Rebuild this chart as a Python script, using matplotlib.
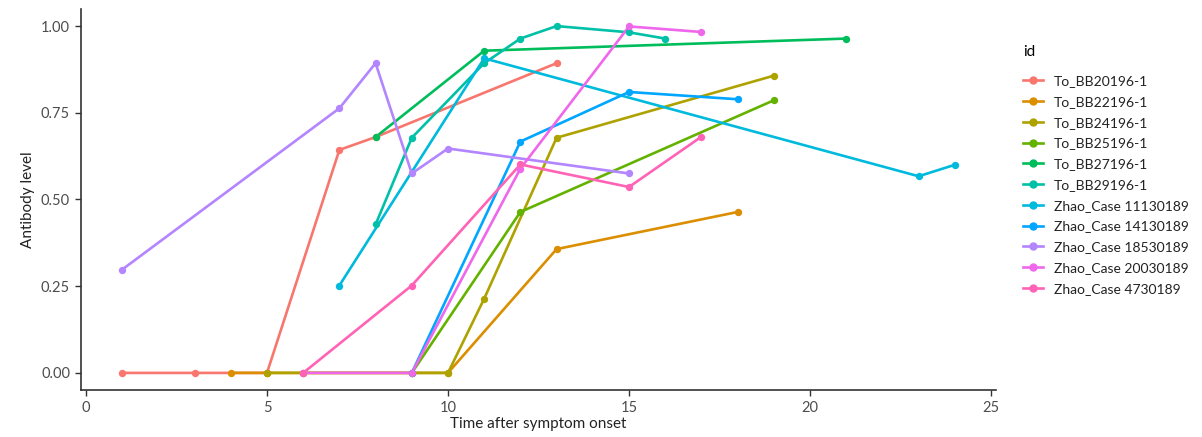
import matplotlib
matplotlib.use("Agg")
import matplotlib.pyplot as plt

plt.rcParams['font.family'] = ['Lato', 'DejaVu Sans']

ids = ["To_BB20196-1", "To_BB22196-1", "To_BB24196-1", "To_BB25196-1",
       "To_BB27196-1", "To_BB29196-1", "Zhao_Case 11130189", "Zhao_Case 14130189",
       "Zhao_Case 18530189", "Zhao_Case 20030189", "Zhao_Case 4730189"]
colors = ["#F8766D", "#DB8E00", "#AEA200", "#64B200", "#00BD5C", "#00C1A7",
          "#00BADE", "#00A6FF", "#B385FF", "#EF67EB", "#FF63B6"]

days = [
    [1, 3, 5, 7, 8, 13],
    [4, 5, 10, 13, 18],
    [5, 6, 9, 10, 11, 13, 19],
    [9, 12, 19],
    [8, 11, 21],
    [8, 9, 11, 12, 13, 15, 16],
    [7, 11, 23, 24],
    [9, 12, 15, 18],
    [1, 7, 8, 9, 10, 15],
    [6, 9, 12, 15, 17],
    [6, 9, 12, 15, 17],
]
levels = [
    [0, 0, 0, 0.643, 0.68, 0.893],
    [0, 0, 0, 0.357, 0.464],
    [0, 0, 0, 0, 0.214, 0.678, 0.857],
    [0, 0.464, 0.786],
    [0.68, 0.929, 0.964],
    [0.428, 0.678, 0.893, 0.964, 1.0, 0.982, 0.964],
    [0.252, 0.907, 0.567, 0.60],
    [0, 0.667, 0.81, 0.789],
    [0.298, 0.763, 0.893, 0.575, 0.647, 0.575],
    [0, 0, 0.589, 0.999, 0.983],
    [0, 0.252, 0.601, 0.536, 0.681],
]

fig = plt.figure(figsize=(12.02, 4.37), dpi=100)
ax = fig.add_axes([0.067, 0.107, 0.762, 0.873])

# lines first, then points on top (like ggplot layers)
for x, y, c in zip(days, levels, colors):
    ax.plot(x, y, color=c, lw=1.9, zorder=2)
handles = []
for x, y, c, name in zip(days, levels, colors, ids):
    ax.scatter(x, y, color=c, s=28, zorder=3, linewidths=0)
    h, = ax.plot([], [], color=c, lw=1.9, marker='o', ms=5, label=name)
    handles.append(h)

ax.set_xlim(-0.15, 25.15)
ax.set_ylim(-0.05, 1.05)
ax.set_xticks([0, 5, 10, 15, 20, 25])
ax.set_yticks([0, 0.25, 0.5, 0.75, 1.0])
ax.set_yticklabels(["0.00", "0.25", "0.50", "0.75", "1.00"])
for s in ["top", "right"]:
    ax.spines[s].set_visible(False)
for s in ["left", "bottom"]:
    ax.spines[s].set_color("#333333")
    ax.spines[s].set_linewidth(1.2)
ax.tick_params(colors="#333333", labelcolor="#4d4d4d", labelsize=10.5, length=4, width=1)
ax.set_xlabel("Time after symptom onset", fontsize=11, color="#222222", labelpad=2)
ax.set_ylabel("Antibody level", fontsize=11, color="#222222", labelpad=4)

leg = fig.legend(handles=handles, title="id", loc="upper left", bbox_to_anchor=(0.851, 0.898),
                 frameon=False, fontsize=10, title_fontsize=11, handlelength=1.45,
                 labelspacing=0.63, handletextpad=0.8, borderpad=0, borderaxespad=0)
leg._legend_box.align = "left"
leg._legend_box.sep = 12
for t in leg.get_texts():
    t.set_color("#222222")

fig.savefig("out.png", dpi=100)
